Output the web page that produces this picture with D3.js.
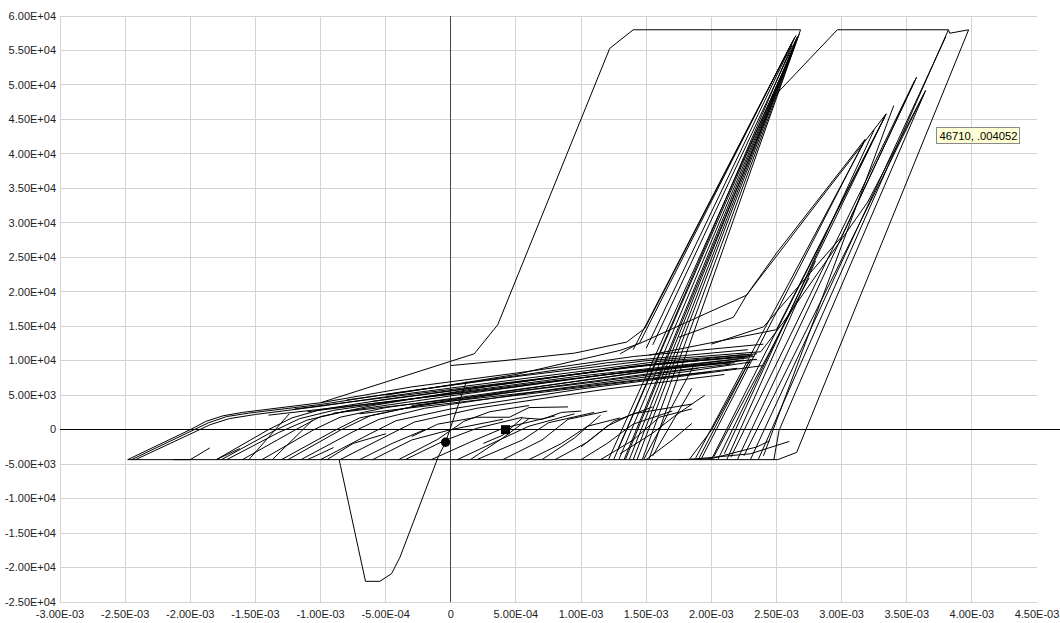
<!DOCTYPE html>
<html>
<head>
<meta charset="utf-8">
<script src="https://cdn.jsdelivr.net/npm/d3@7"></script>
<style>
  body { margin: 0; background: #fff; }
  svg { display: block; }
  text { font-family: "Liberation Sans", Arial, sans-serif; font-size: 11px; fill: #222; }
</style>
</head>
<body>
<svg width="1060" height="623"></svg>
<script>
// axis ticks
const xTicks = [-3e-3, -2.5e-3, -2e-3, -1.5e-3, -1e-3, -5e-4, 0, 5e-4, 1e-3, 1.5e-3, 2e-3, 2.5e-3, 3e-3, 3.5e-3, 4e-3, 4.5e-3];
const yTicks = [-25000, -20000, -15000, -10000, -5000, 0, 5000, 10000, 15000, 20000, 25000, 30000, 35000, 40000, 45000, 50000, 55000, 60000];

// [strain, force] polylines
const bottomPlateau = [[-2.48e-3, -4350], [2.51e-3, -4350], [2.655e-3, -3300]];

const firstEnvelope = [[-2.48e-3, -4350], [-2.0e-3, 0], [-1.88e-3, 1200], [-1.75e-3, 2000], [-1.6e-3, 2500],
  [-1.0e-3, 3900], [0.18e-3, 11000], [0.36e-3, 15200], [1.22e-3, 55300], [1.40e-3, 58000], [2.685e-3, 58000]];

const secondEnvelope = [[2.655e-3, -3300], [3.975e-3, 58000], [3.83e-3, 57500], [3.82e-3, 58000],
  [2.967e-3, 58000], [2.49e-3, 48500], [1.34e-3, -4350]];

const negativeDip = [[-0.857e-3, -4350], [-0.655e-3, -22000], [-0.545e-3, -22000], [-0.455e-3, -20900],
  [-0.39e-3, -18500], [-0.097e-3, -3960], [-0.04e-3, -1830], [0.07e-3, 4300], [0.12e-3, 7000]];

const firstBundle = [
  [[2.685e-3, 58000], [1.52e-3, -4350]],
  [[2.675e-3, 57400], [1.47e-3, -4350]],
  [[2.665e-3, 57000], [1.43e-3, -4350]],
  [[2.655e-3, 56600], [1.40e-3, -4350]],
  [[2.645e-3, 56200], [1.37e-3, -4350]],
  [[2.635e-3, 55700], [1.33e-3, -4350]],
  [[2.625e-3, 55200], [1.29e-3, -4350]],
  [[2.61e-3, 54600], [1.25e-3, -4350]],
  [[2.60e-3, 54000], [1.21e-3, -4350]],
  [[2.62e-3, 55800], [1.28e-3, -3000]],
  [[0, 9300], [0.4e-3, 10000], [0.95e-3, 11100], [1.35e-3, 12700], [1.49e-3, 14700], [2.63e-3, 56500]],
  [[1.30e-3, 11000], [1.45e-3, 12600], [2.62e-3, 56200]],
  [[1.40e-3, 11600], [2.64e-3, 56900]],
  [[1.50e-3, 11800], [2.65e-3, 57200]],
  [[1.55e-3, 12300], [2.66e-3, 57000]]
];

const secondBundle = [
  [[3.82e-3, 58000], [2.36e-3, -4350]],
  [[3.80e-3, 57000], [2.30e-3, -4350]],
  [[3.575e-3, 51100], [2.20e-3, -4350]],
  [[3.56e-3, 50600], [2.15e-3, -4000]],
  [[3.645e-3, 49200], [2.52e-3, -100], [2.48e-3, -4350]],
  [[3.63e-3, 48600], [2.25e-3, -3800]],
  [[3.342e-3, 45800], [2.05e-3, -4350]],
  [[3.33e-3, 45300], [2.0e-3, -4350]],
  [[3.18e-3, 42100], [1.92e-3, -4350]],
  [[3.17e-3, 41600], [1.88e-3, -4100]],
  [[3.25e-3, 43500], [2.10e-3, -3500]],
  [[3.40e-3, 47000], [2.40e-3, -3800]],
  [[2.80e-3, 24500], [2.12e-3, -4300]],
  [[2.75e-3, 22000], [2.02e-3, -3900]]
];

const risingBranches = [
  [[1.45e-3, 12500], [2.27e-3, 19500], [2.50e-3, 25600], [3.18e-3, 42100]],
  [[1.75e-3, 13400], [2.17e-3, 16300], [2.27e-3, 19500], [2.83e-3, 33300], [3.342e-3, 45800]],
  [[2.0e-3, 12400], [2.40e-3, 14900], [3.0e-3, 28000], [3.575e-3, 51100]],
  [[1.52e-3, 10800], [2.50e-3, 14500], [3.342e-3, 45800]],
  [[2.38e-3, 11300], [2.55e-3, 15500], [3.2e-3, 33000], [3.645e-3, 49200]]
];

const bandLines = [
  [[-2.45e-3, -4350], [-1.97e-3, 0], [-1.86e-3, 1000], [-1.72e-3, 1900], [-1.55e-3, 2400], [-1.0e-3, 3650], [-0.4e-3, 5400], [0.5e-3, 7700], [1.5e-3, 10000], [2.38e-3, 11300]],
  [[-2.42e-3, -4350], [-1.95e-3, -200], [-1.85e-3, 700], [-1.7e-3, 1600], [-1.5e-3, 2200], [-1.0e-3, 3400], [-0.3e-3, 5300], [0.6e-3, 7500], [1.6e-3, 9900], [2.35e-3, 11000]],
  [[-1.80e-3, -4350], [-1.40e-3, 0], [-1.22e-3, 1700], [-1.0e-3, 2900], [-0.5e-3, 4400], [0.5e-3, 6900], [1.5e-3, 9300], [2.30e-3, 10700]],
  [[-1.76e-3, -4350], [-1.36e-3, -200], [-1.16e-3, 1600], [-0.9e-3, 2800], [0, 5300], [1.0e-3, 7800], [2.28e-3, 10400]],
  [[-1.72e-3, -4350], [-1.32e-3, -400], [-1.10e-3, 1400], [-0.8e-3, 2700], [0, 4900], [1.2e-3, 8000], [2.25e-3, 10100]],
  [[-1.60e-3, -4350], [-1.20e-3, -100], [-1.0e-3, 1900], [-0.6e-3, 3500], [0.3e-3, 6300], [1.3e-3, 8900], [2.32e-3, 10800]],
  [[-1.45e-3, -4350], [-1.05e-3, 0], [-0.85e-3, 1800], [-0.5e-3, 3200], [0.5e-3, 5800], [1.5e-3, 8400], [2.2e-3, 9900]],
  [[-1.30e-3, -4350], [-0.90e-3, -200], [-0.70e-3, 1700], [-0.3e-3, 3300], [0.6e-3, 5800], [1.6e-3, 8300], [2.15e-3, 9500]],
  [[-1.25e-3, -4350], [-0.85e-3, -100], [-0.62e-3, 2000], [-0.2e-3, 3700], [0.7e-3, 6300], [1.7e-3, 9000], [2.35e-3, 10200]],
  [[-1.15e-3, -4350], [-0.75e-3, -300], [-0.55e-3, 1500], [-0.2e-3, 3100], [0.8e-3, 5900], [1.8e-3, 8400], [2.3e-3, 9800]],
  [[-1.0e-3, -4350], [-0.62e-3, -600], [-0.42e-3, 1300], [0, 3000], [1.0e-3, 5900], [2.0e-3, 8300], [2.4e-3, 9300]],
  [[-0.85e-3, -4350], [-0.48e-3, -800], [-0.28e-3, 1100], [0.2e-3, 3100], [1.2e-3, 5900], [2.1e-3, 8000]],
  [[-1.0e-3, 3900], [-0.3e-3, 6200], [0.5e-3, 8200], [1.4e-3, 10600], [2.4e-3, 12400]],
  [[-0.5e-3, 5000], [0.5e-3, 8000], [1.3e-3, 11500], [1.45e-3, 12500]],
  [[-0.8e-3, 4300], [0.2e-3, 7000], [1.2e-3, 9700], [2.28e-3, 11600]],
  [[-0.6e-3, 4100], [0.4e-3, 6600], [1.4e-3, 9200], [2.26e-3, 10900]],
  [[-1.2e-3, 3000], [-0.4e-3, 4900], [0.6e-3, 7200], [1.6e-3, 9600], [2.33e-3, 10600]],
  [[-1.1e-3, 2600], [-0.2e-3, 4700], [0.8e-3, 7100], [1.8e-3, 9300], [2.22e-3, 10300]],
  [[-0.9e-3, 2400], [0.1e-3, 4600], [1.1e-3, 6900], [1.9e-3, 8900]],
  [[-0.7e-3, 2300], [0.3e-3, 4500], [1.3e-3, 6800], [2.0e-3, 8400]],
  [[-1.4e-3, 2100], [-0.6e-3, 3800], [0.4e-3, 6000], [1.4e-3, 8500], [2.18e-3, 9700]],
  [[-0.3e-3, 3500], [0.7e-3, 5600], [1.7e-3, 7800], [2.2e-3, 8900]]
];

const shortLoops = [
  [[-0.6e-3, -4350], [-0.3e-3, -1500], [0, 0], [0.4e-3, 1500]],
  [[-0.35e-3, -4350], [-0.05e-3, -1600], [0.2e-3, 200], [0.55e-3, 1800]],
  [[-0.15e-3, -4350], [0.15e-3, -1800], [0.4e-3, 200], [0.8e-3, 2000]],
  [[0.05e-3, -4350], [0.35e-3, -1700], [0.6e-3, 500], [0.95e-3, 2300]],
  [[0.2e-3, -4350], [0.55e-3, -1500], [0.75e-3, 1000], [1.1e-3, 2500]],
  [[0.4e-3, -4350], [0.7e-3, -1500], [0.9e-3, 1500], [1.2e-3, 2700]],
  [[0.6e-3, -4350], [0.85e-3, -2000], [1.05e-3, 500], [1.3e-3, 1700]],
  [[0.8e-3, -4350], [1.05e-3, -1800], [1.25e-3, 1200], [1.55e-3, 3300]],
  [[1.0e-3, -4350], [1.2e-3, -2000], [1.4e-3, 800], [1.7e-3, 2700]],
  [[1.15e-3, -4350], [1.4e-3, -1500], [1.6e-3, 1800], [1.85e-3, 3000]],
  [[1.5e-3, -4350], [1.7e-3, -1500], [1.85e-3, 900]],
  [[-0.4e-3, -4350], [-0.1e-3, -1400], [0.1e-3, 1200], [0.3e-3, 2600], [0.6e-3, 3500]],
  [[0.25e-3, -2000], [0.4e-3, -800], [0.55e-3, 1700], [0.7e-3, 1500], [0.85e-3, 2500], [1.0e-3, 2700]],
  [[-0.3e-3, -1000], [-0.1e-3, 800], [0.2e-3, 1800], [0.45e-3, 1800], [0.6e-3, 3200], [0.9e-3, 3300]],
  [[-1.8e-3, -4350], [-1.62e-3, -2750]],
  [[-2.13e-3, -4350], [-2.0e-3, -4350], [-1.85e-3, -2650]],
  [[-1.55e-3, -4350], [-1.24e-3, 2300]],
  [[-1.37e-3, -4350], [-1.06e-3, 1400]],
  [[-1.1e-3, -4350], [-0.9e-3, -2600]],
  [[-0.95e-3, -4350], [-0.75e-3, -2000], [-0.5e-3, -600]],
  [[-0.7e-3, -4350], [-0.45e-3, -2000], [-0.2e-3, 0]],
  [[1.75e-3, -4350], [2.0e-3, -4200], [2.35e-3, -2500], [2.45e-3, -1600]],
  [[1.82e-3, -4350], [2.3e-3, -3500], [2.6e-3, -1700]],
  [[1.0e-3, -2500], [1.2e-3, 500], [1.4e-3, 2300], [1.85e-3, 3700]],
  [[1.3e-3, -3500], [1.55e-3, -500], [1.72e-3, 2000], [1.95e-3, 5000]],
  [[1.48e-3, -4350], [1.86e-3, 9100]],
  [[1.55e-3, -3800], [1.85e-3, 6000]],
  [[1.90e-3, -4350], [2.3e-3, 10200]],
  [[1.83e-3, -4350], [2.0e-3, -100], [2.3e-3, 10200]],
  [[0.15e-3, -4350], [0.4e-3, -1200], [0.6e-3, 1600]],
  [[0.7e-3, -4350], [0.95e-3, -1200], [1.15e-3, 2100]]
];

const markerCircle = [-0.04e-3, -1830];
const markerSquare = [0.42e-3, 0];
const tooltipText = "46710, .004052";

const svg = d3.select("svg");
const x = d3.scaleLinear().domain([-3e-3, 4.5e-3]).range([60, 1037]);
const y = d3.scaleLinear().domain([-25000, 60000]).range([602, 16]);

function sci(v) {
    if (Math.abs(v) < 1e-12) return "0";
    let e = Math.floor(Math.log10(Math.abs(v)) + 1e-9);
    let m = v / Math.pow(10, e);
    const sign = e < 0 ? "-" : "+";
    return m.toFixed(2) + "E" + sign + String(Math.abs(e)).padStart(2, "0");
}

// grid
const grid = svg.append("g").attr("stroke", "#d3d3d3").attr("stroke-width", 1).attr("shape-rendering", "crispEdges");
grid.selectAll("line.v").data(xTicks.slice(0, -1)).enter().append("line")
    .attr("x1", d => x(d)).attr("x2", d => x(d)).attr("y1", y(60000)).attr("y2", y(-25000));
grid.selectAll("line.h").data(yTicks).enter().append("line")
    .attr("x1", x(-3e-3)).attr("x2", x(4.5e-3)).attr("y1", d => y(d)).attr("y2", d => y(d));

// zero axes
svg.append("line").attr("x1", x(0)).attr("x2", x(0)).attr("y1", y(60000)).attr("y2", y(-25000))
    .attr("stroke", "#444").attr("stroke-width", 1.3).attr("shape-rendering", "crispEdges");
svg.append("line").attr("x1", x(-3e-3)).attr("x2", 1060).attr("y1", y(0)).attr("y2", y(0))
    .attr("stroke", "#000").attr("stroke-width", 1).attr("shape-rendering", "crispEdges");

// tick labels
svg.append("g").selectAll("text").data(yTicks).enter().append("text")
    .attr("x", 56).attr("y", d => y(d)).attr("dy", "0.34em").attr("text-anchor", "end")
    .text(sci);
svg.append("g").selectAll("text").data(xTicks).enter().append("text")
    .attr("x", d => x(d)).attr("y", 618).attr("text-anchor", "middle")
    .text(sci);

// curves
const line = d3.line().x(d => x(d[0])).y(d => y(d[1]));
const allCurves = [bottomPlateau, firstEnvelope, secondEnvelope, negativeDip]
    .concat(firstBundle, secondBundle, risingBranches, bandLines, shortLoops);

svg.append("g").selectAll("path").data(allCurves).enter().append("path")
    .attr("d", line)
    .attr("fill", "none")
    .attr("stroke", "#000")
    .attr("stroke-width", 1)
    .attr("stroke-linejoin", "round");

// markers
svg.append("circle").attr("cx", x(markerCircle[0])).attr("cy", y(markerCircle[1])).attr("r", 4.7).attr("fill", "#000");
svg.append("rect").attr("x", x(markerSquare[0]) - 4.5).attr("y", y(markerSquare[1]) - 4.5)
    .attr("width", 9).attr("height", 9).attr("fill", "#000");

// tooltip
const tip = svg.append("g");
tip.append("rect").attr("x", 936.5).attr("y", 127.5).attr("width", 83).attr("height", 16)
    .attr("fill", "#ffffd5").attr("stroke", "#8a8a8a");
tip.append("text").attr("x", 939.5).attr("y", 140).attr("textLength", 78).attr("lengthAdjust", "spacingAndGlyphs")
    .style("font-size", "11.5px").style("fill", "#000")
    .text(tooltipText);
</script>
</body>
</html>
